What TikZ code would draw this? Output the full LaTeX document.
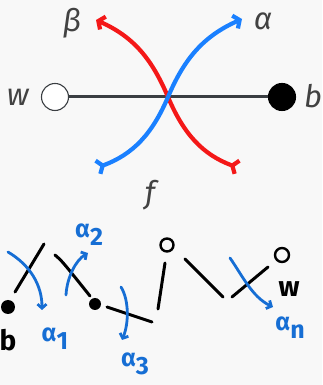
\documentclass[tikz,border=0pt]{standalone}
\usepackage{fontspec}
\setmainfont{Fira Sans}
\usetikzlibrary{
  arrows.meta
}
\definecolor{paper}{RGB}{248,248,248}
\definecolor{edgegray}{RGB}{58,62,66}
\definecolor{lettergray}{RGB}{66,66,66}
\definecolor{flowred}{RGB}{244,24,24}
\definecolor{flowblue}{RGB}{26,128,255}
\definecolor{inkblue}{RGB}{22,110,212}
\newcommand{\inksub}[1]{\raisebox{-8pt}{#1}}
\tikzset{
  vertex/.style={
    circle,
    draw=edgegray,
    line width=1.1pt,
    minimum size=27pt,
    inner sep=0pt
  },
  whitevertex/.style={
    vertex,
    fill=white
  },
  blackvertex/.style={
    vertex,
    draw=black,
    fill=black
  },
  edge/.style={
    line width=3pt,
    draw=edgegray
  },
  flow/.style={
    line width=4.2pt,
    {Straight Barb[reversed,length=5pt,width=14pt]}-{Straight Barb[length=5pt,width=14pt]}
  },
  letter/.style={
    font=\fontsize{31}{33}\selectfont\itshape,
    text=lettergray,
    inner sep=0pt
  },
  ink/.style={
    line width=3pt,
    line cap=round,
    draw=black
  },
  inkarrow/.style={
    line width=2.8pt,
    line cap=round,
    draw=inkblue,
    -{Straight Barb[length=4pt,width=9pt]}
  },
  inkdot/.style={
    circle,
    fill=black,
    inner sep=0pt
  },
  inkring/.style={
    circle,
    draw=black,
    line width=2.4pt,
    minimum size=13pt,
    inner sep=0pt
  },
  inklabel/.style={
    font=\fontsize{25}{27}\selectfont\bfseries,
    text=inkblue,
    inner sep=0pt
  },
  inkletter/.style={
    font=\fontsize{28}{30}\selectfont\bfseries,
    inner sep=0pt
  }
}

\begin{document}
\begin{tikzpicture}[x=1pt,y=1pt]

\fill[paper] (0,0) rectangle (322,385);
\useasboundingbox (0,0) rectangle (322,385);

% Edge with its two ends.
\node[whitevertex] (w) at (55,288) {};
\node[blackvertex] (b) at (282,288) {};
\node[letter] (wname) at (18,288) {w};
\node[letter] (bname) at (313,289) {b};
\draw[edge] (w) -- (b);

% Crossing flows.
\coordinate (cross) at (168,288);
\coordinate (redtail) at (239,217);
\coordinate (redtip) at (96,365);
\coordinate (bluetail) at (96,217);
\coordinate (bluetip) at (242,366);
\draw[flow, flowred] (redtail) to[out=160,in=-67] (cross) to[out=113,in=-24] (redtip);
\draw[flow, flowblue] (bluetail) to[out=20,in=-113] (cross) to[out=67,in=204] (bluetip);
\node[letter] (betaname) at (72,362) {β};
\node[letter] (alphaname) at (263,364) {α};
\node[letter] (fname) at (150,190) {f};

% Hand sketch of the chain.
\node[inkdot, minimum size=14pt] (bdot) at (8,78) {};
\node[inkletter] (bsketch) at (8,45) {b};
\node[inkdot, minimum size=12pt] (middot) at (95,81) {};
\node[inkring] (topring) at (167,140) {};
\node[inkring, minimum size=14pt] (wring) at (282,130) {};
\node[inkletter] (wsketch) at (289,96) {w};

\draw[ink] (15,93) -- (44,141);
\draw[ink] (55,130) .. controls (62,124) .. (90,89);
\draw[ink] (107,78) -- (152,63);
\draw[ink] (165,122) -- (158,76);
\draw[ink] (185,126) -- (223,88);
\draw[ink] (232,88) -- (268,118);

% Blue moves.
\draw[inkarrow] (8,133) .. controls (30,120) and (42,100) .. (42,75);
\draw[inkarrow] (66,90) .. controls (67,108) and (76,125) .. (88,132);
\draw[inkarrow] (121,98) .. controls (129,85) and (129,62) .. (122,45);
\draw[inkarrow] (230,127) .. controls (242,110) and (252,88) .. (273,78);
\node[inklabel] (alphaone) at (55,46) {α\inksub{1}};
\node[inklabel] (alphatwo) at (89,150) {α\inksub{2}};
\node[inklabel] (alphathree) at (135,21) {α\inksub{3}};
\node[inklabel] (alphan) at (290,57) {α\inksub{n}};

\end{tikzpicture}
\end{document}
